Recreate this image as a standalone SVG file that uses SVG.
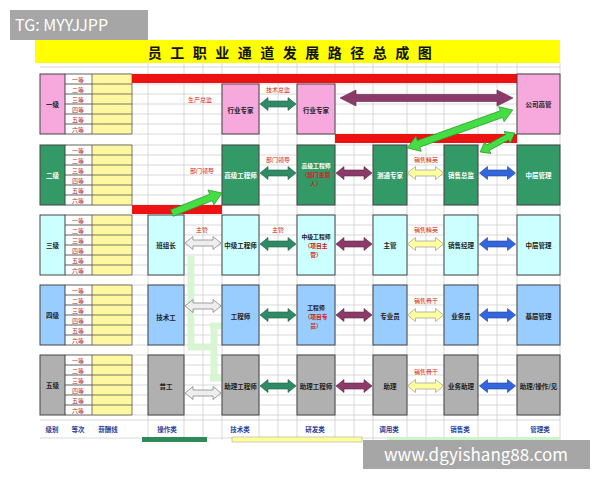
<svg xmlns="http://www.w3.org/2000/svg" width="600" height="480" viewBox="0 0 600 480">
<defs>
<style>
text{font-family:"Noto Sans CJK SC","Noto Sans",sans-serif;}
.t{font-size:6.5px;text-anchor:middle;dominant-baseline:central;fill:#222;font-weight:bold}
.s{font-size:5.8px}
.w{fill:#fff}
.r{fill:#d42020}
.lab{font-size:6px;fill:#d42020;text-anchor:middle;dominant-baseline:central}
.sub{font-size:6px;fill:#b03030;text-anchor:middle;dominant-baseline:central}
.ft{font-size:6.5px;fill:#2a3f9a;text-anchor:middle;font-weight:bold}
.grid{stroke:#cfcfcf;stroke-width:0.8;fill:none}
.dg{stroke:#555;stroke-width:0.8;fill:none}
.node{stroke:#444;stroke-width:1}
.l1{fill:#f7a8dc}.l2{fill:#339966}.l3{fill:#ccffff}.l4{fill:#99ccff}.l5{fill:#b0b0b0}
.yc{fill:#fff8a0}
.red{fill:#ee1111}
.ag{fill:#2e8b66;stroke:#1d5e44;stroke-width:0.6}
.ap{fill:#8b3a6a;stroke:#5e2447;stroke-width:0.6}
.ay{fill:#ffffa0;stroke:#999;stroke-width:0.7}
.ab{fill:#3366dd;stroke:#1d3f99;stroke-width:0.6}
.agr{fill:#eeeeee;stroke:#888;stroke-width:0.8}
.alg{fill:#44dd44;stroke:#2a9a2a;stroke-width:0.7}
</style>
<path id="da" d="M-18,0 L-10,-6.5 L-10,-3 L10,-3 L10,-6.5 L18,0 L10,6.5 L10,3 L-10,3 L-10,6.5 Z"/>
</defs>
<rect width="600" height="480" fill="#fff"/>
<!-- title -->
<rect x="35" y="40" width="525" height="23" fill="#ffff00"/>
<text x="294" y="52" font-size="14" font-weight="bold" text-anchor="middle" dominant-baseline="central" letter-spacing="8.5" fill="#111">员工职业通道发展路径总成图</text>
<!-- grid -->
<g id="grid">
<path class="grid" d="M40,67 H560 M65,74 H560 M65,84 H560 M65,94 H560 M65,104 H560 M65,114 H560 M65,124 H560 M65,134 H560
M65,145 H560 M65,155 H560 M65,165 H560 M65,175 H560 M65,185 H560 M65,195 H560 M65,205 H560
M65,215 H560 M65,225 H560 M65,235 H560 M65,245 H560 M65,255 H560 M65,265 H560 M65,275 H560
M65,285 H560 M65,295 H560 M65,305 H560 M65,315 H560 M65,325 H560 M65,335 H560 M65,345 H560
M65,355 H560 M65,365 H560 M65,375 H560 M65,385 H560 M65,395 H560 M65,405 H560 M65,415 H560 M40,420 H560 M40,438 H560"/>
<path class="grid" d="M148,63 V440 M184,63 V440 M203,63 V440 M222,63 V440 M259,63 V440 M278,63 V440 M297,63 V440 M335,63 V440 M354,63 V440 M373,63 V440 M407,63 V440 M426,63 V440 M444,63 V440 M478,63 V440 M497,63 V440 M517,63 V440 M560,63 V440"/>
<rect class="yc" x="92" y="74" width="40" height="60"/>
<rect class="yc" x="92" y="145" width="40" height="60"/>
<rect class="yc" x="92" y="215" width="40" height="60"/>
<rect class="yc" x="92" y="285" width="40" height="60"/>
<rect class="yc" x="92" y="355" width="40" height="60"/>
<path class="dg" d="M65,74 H132 M65,84 H132 M65,94 H132 M65,104 H132 M65,114 H132 M65,124 H132 M65,134 H132
M65,145 H132 M65,155 H132 M65,165 H132 M65,175 H132 M65,185 H132 M65,195 H132 M65,205 H132
M65,215 H132 M65,225 H132 M65,235 H132 M65,245 H132 M65,255 H132 M65,265 H132 M65,275 H132
M65,285 H132 M65,295 H132 M65,305 H132 M65,315 H132 M65,325 H132 M65,335 H132 M65,345 H132
M65,355 H132 M65,365 H132 M65,375 H132 M65,385 H132 M65,395 H132 M65,405 H132 M65,415 H132
M92,74 V134 M92,145 V205 M92,215 V275 M92,285 V345 M92,355 V415
M132,74 V134 M132,145 V205 M132,215 V275 M132,285 V345 M132,355 V415"/>
<rect class="red" x="132" y="74" width="385" height="9"/>
<rect class="red" x="335" y="134" width="182" height="9"/>
<rect class="red" x="132" y="205" width="90" height="9"/>
</g>
<!-- level labels and grades -->
<g id="level1"><rect class="node l1" x="40" y="74" width="25" height="60"/><text class="t" x="52.5" y="104">一级</text>
<text class="sub" x="78" y="79">一等</text><text class="sub" x="78" y="89">二等</text><text class="sub" x="78" y="99">三等</text><text class="sub" x="78" y="109">四等</text><text class="sub" x="78" y="119">五等</text><text class="sub" x="78" y="129">六等</text></g>
<g id="level2"><rect class="node l2" x="40" y="145" width="25" height="60"/><text class="t w" x="52.5" y="175">二级</text>
<text class="sub" x="78" y="150">一等</text><text class="sub" x="78" y="160">二等</text><text class="sub" x="78" y="170">三等</text><text class="sub" x="78" y="180">四等</text><text class="sub" x="78" y="190">五等</text><text class="sub" x="78" y="200">六等</text></g>
<g id="level3"><rect class="node l3" x="40" y="215" width="25" height="60"/><text class="t" x="52.5" y="245">三级</text>
<text class="sub" x="78" y="220">一等</text><text class="sub" x="78" y="230">二等</text><text class="sub" x="78" y="240">三等</text><text class="sub" x="78" y="250">四等</text><text class="sub" x="78" y="260">五等</text><text class="sub" x="78" y="270">六等</text></g>
<g id="level4"><rect class="node l4" x="40" y="285" width="25" height="60"/><text class="t" x="52.5" y="315">四级</text>
<text class="sub" x="78" y="290">一等</text><text class="sub" x="78" y="300">二等</text><text class="sub" x="78" y="310">三等</text><text class="sub" x="78" y="320">四等</text><text class="sub" x="78" y="330">五等</text><text class="sub" x="78" y="340">六等</text></g>
<g id="level5"><rect class="node l5" x="40" y="355" width="25" height="60"/><text class="t" x="52.5" y="385">五级</text>
<text class="sub" x="78" y="360">一等</text><text class="sub" x="78" y="370">二等</text><text class="sub" x="78" y="380">三等</text><text class="sub" x="78" y="390">四等</text><text class="sub" x="78" y="400">五等</text><text class="sub" x="78" y="410">六等</text></g>
<!-- light green path -->
<g id="lightpath" fill="none" stroke="#d6f5d0" stroke-width="7" opacity="0.9">
<path d="M191,256 V347 H214"/><path d="M214,326 V378"/><path d="M210,326 H222 M210,378 H222"/>
</g>
<!-- nodes -->
<g id="n1a"><rect class="node l1" x="222" y="84" width="37" height="50"/><text class="t" x="240.5" y="110">行业专家</text></g>
<g id="n1b"><rect class="node l1" x="297" y="84" width="38" height="50"/><text class="t" x="316" y="110">行业专家</text></g>
<g id="n1c"><rect class="node l1" x="517" y="74" width="43" height="60"/><text class="t" x="538.5" y="104">公司高管</text></g>

<g id="n2a"><rect class="node l2" x="222" y="145" width="37" height="60"/><text class="t w" x="240.5" y="175">高级工程师</text></g>
<g id="n2b"><rect class="node l2" x="297" y="145" width="38" height="60"/><text class="t s w" x="316" y="165">高级工程师</text><text class="t s r" x="316" y="174">（部门主管</text><text class="t s r" x="316" y="183">人）</text></g>
<g id="n2c"><rect class="node l2" x="373" y="145" width="34" height="60"/><text class="t w" x="390" y="175">测通专家</text></g>
<g id="n2d"><rect class="node l2" x="444" y="145" width="34" height="60"/><text class="t w" x="461" y="175">销售总监</text></g>
<g id="n2e"><rect class="node l2" x="517" y="145" width="43" height="60"/><text class="t w" x="538.5" y="175">中层管理</text></g>

<g id="n3a"><rect class="node l3" x="148" y="215" width="36" height="60"/><text class="t" x="166" y="245">班组长</text></g>
<g id="n3b"><rect class="node l3" x="222" y="215" width="37" height="60"/><text class="t" x="240.5" y="245">中级工程师</text></g>
<g id="n3c"><rect class="node l3" x="297" y="215" width="38" height="60"/><text class="t s" x="316" y="236">中级工程师</text><text class="t s r" x="316" y="245">（项目主</text><text class="t s r" x="316" y="254">管）</text></g>
<g id="n3d"><rect class="node l3" x="373" y="215" width="34" height="60"/><text class="t" x="390" y="245">主管</text></g>
<g id="n3e"><rect class="node l3" x="444" y="215" width="34" height="60"/><text class="t" x="461" y="245">销售经理</text></g>
<g id="n3f"><rect class="node l3" x="517" y="215" width="43" height="60"/><text class="t" x="538.5" y="245">中层管理</text></g>

<g id="n4a"><rect class="node l4" x="148" y="285" width="36" height="60"/><text class="t" x="166" y="317">技术工</text></g>
<g id="n4b"><rect class="node l4" x="222" y="285" width="37" height="60"/><text class="t" x="240.5" y="316">工程师</text></g>
<g id="n4c"><rect class="node l4" x="297" y="285" width="38" height="60"/><text class="t s" x="316" y="307">工程师</text><text class="t s r" x="316" y="316">（项目专</text><text class="t s r" x="316" y="325">员）</text></g>
<g id="n4d"><rect class="node l4" x="373" y="285" width="34" height="60"/><text class="t" x="390" y="316">专业员</text></g>
<g id="n4e"><rect class="node l4" x="444" y="285" width="34" height="60"/><text class="t" x="461" y="316">业务员</text></g>
<g id="n4f"><rect class="node l4" x="517" y="285" width="43" height="60"/><text class="t" x="538.5" y="316">基层管理</text></g>

<g id="n5a"><rect class="node l5" x="148" y="355" width="36" height="60"/><text class="t" x="166" y="386">普工</text></g>
<g id="n5b"><rect class="node l5" x="222" y="355" width="37" height="60"/><text class="t" x="240.5" y="386">助理工程师</text></g>
<g id="n5c"><rect class="node l5" x="297" y="355" width="38" height="60"/><text class="t" x="316" y="386">助理工程师</text></g>
<g id="n5d"><rect class="node l5" x="373" y="355" width="34" height="60"/><text class="t" x="390" y="386">助理</text></g>
<g id="n5e"><rect class="node l5" x="444" y="355" width="34" height="60"/><text class="t" x="461" y="386">业务助理</text></g>
<g id="n5f"><rect class="node l5" x="517" y="355" width="43" height="60"/><text class="t" x="538.5" y="386">助理/操作/见</text></g>
<!-- connectors -->
<g id="connectors">
<use href="#da" class="ag" transform="translate(278,104)"/>
<path class="ap" d="M340,98 L356,90 L356,94.5 L497,94.5 L497,90 L513,98 L497,106 L497,101.5 L356,101.5 L356,106 Z"/>
<path class="alg" transform="translate(460,129) rotate(-19.7)" d="M-56,0 L-44,-8 L-44,-3.5 L44,-3.5 L44,-8 L56,0 L44,8 L44,3.5 L-44,3.5 L-44,8 Z"/>
<use href="#da" class="alg" transform="translate(497.5,142.5) rotate(-28.5) scale(1.1,1)"/>
<path class="alg" transform="translate(197,203) rotate(-21.8)" d="M-27,-3.5 L15,-3.5 L15,-8 L27,0 L15,8 L15,3.5 L-27,3.5 Z"/>

<use href="#da" class="ag" transform="translate(278,173)"/>
<use href="#da" class="ap" transform="translate(354,173)"/>
<use href="#da" class="ay" transform="translate(425.5,173)"/>
<use href="#da" class="ab" transform="translate(497.5,173)"/>

<use href="#da" class="agr" transform="translate(203,243)"/>
<use href="#da" class="ag" transform="translate(278,244)"/>
<use href="#da" class="ap" transform="translate(354,244)"/>
<use href="#da" class="ay" transform="translate(425.5,244)"/>
<use href="#da" class="ab" transform="translate(497.5,244)"/>

<use href="#da" class="agr" transform="translate(203,306)"/>
<use href="#da" class="ag" transform="translate(278,315)"/>
<use href="#da" class="ap" transform="translate(354,315)"/>
<use href="#da" class="ay" transform="translate(425.5,315)"/>
<use href="#da" class="ab" transform="translate(497.5,315)"/>

<use href="#da" class="agr" transform="translate(203,393)"/>
<use href="#da" class="ag" transform="translate(278,386)"/>
<use href="#da" class="ap" transform="translate(354,386)"/>
<use href="#da" class="ay" transform="translate(425.5,386)"/>
<use href="#da" class="ab" transform="translate(497.5,386)"/>
</g>
<!-- labels -->
<g id="labels">
<text class="lab" x="200" y="99">生产总监</text>
<text class="lab" x="278" y="89">技术总监</text>
<text class="lab" x="202" y="170">部门领导</text>
<text class="lab" x="278" y="159">部门领导</text>
<text class="lab" x="426" y="159">销售精英</text>
<text class="lab" x="202" y="229">主管</text>
<text class="lab" x="278" y="229">主管</text>
<text class="lab" x="426" y="229">销售精英</text>
<text class="lab" x="426" y="300">销售骨干</text>
<text class="lab" x="426" y="371">销售骨干</text>
</g>
<!-- footer -->
<g id="footer">
<text class="ft" x="52" y="432">级别</text>
<text class="ft" x="78" y="432">等次</text>
<text class="ft" x="108" y="432">薪酬线</text>
<text class="ft" x="167" y="432">操作类</text>
<text class="ft" x="240" y="432">技术类</text>
<text class="ft" x="315" y="432">研发类</text>
<text class="ft" x="389" y="432">调用类</text>
<text class="ft" x="460" y="432">销售类</text>
<text class="ft" x="540" y="432">管理类</text>
<rect x="142" y="437" width="65" height="5" fill="#2e8b57"/>
<rect x="232" y="437" width="130" height="5" fill="#ffff99" stroke="#aaa" stroke-width="0.6"/>
<rect x="387" y="437" width="173" height="5" fill="#ccf5cc"/>
</g>
<!-- watermarks -->
<rect x="10" y="10" width="138" height="30" fill="#a6a6a6"/>
<text x="15" y="31" font-family="Liberation Sans, sans-serif" font-size="16" fill="#fff">TG: MYYJJPP</text>
<rect x="363" y="440" width="227" height="29" fill="#a6a6a6"/>
<text x="476" y="461" font-family="Liberation Sans, sans-serif" font-size="17" fill="#fff" text-anchor="middle">www.dgyishang88.com</text>
</svg>
